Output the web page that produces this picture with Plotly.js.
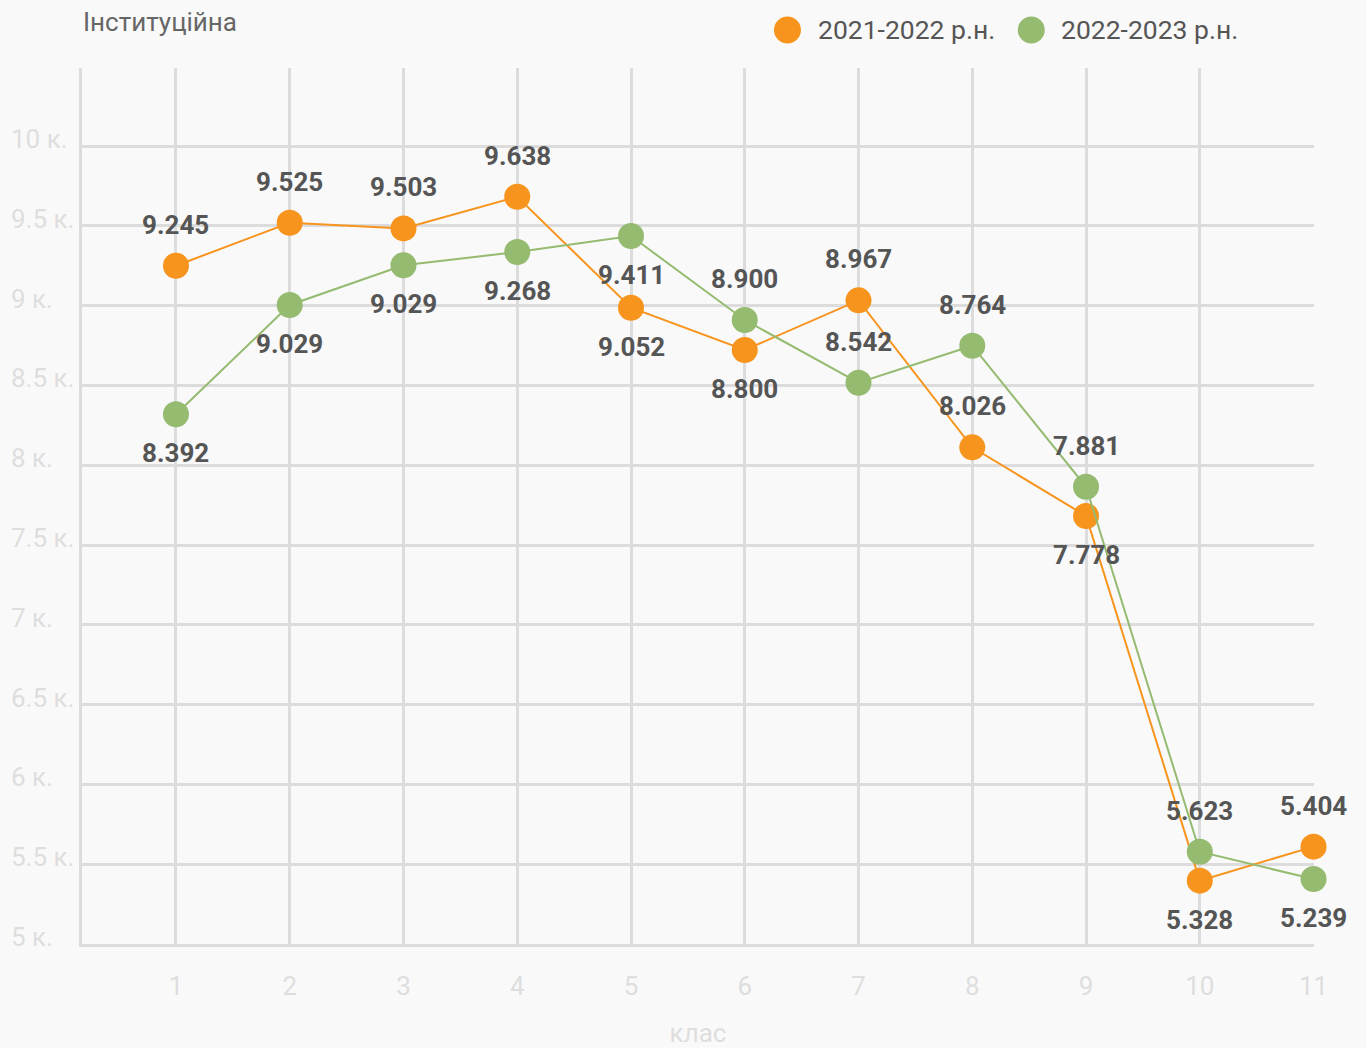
<!DOCTYPE html>
<html>
<head>
<meta charset="utf-8">
<script src="https://cdn.plot.ly/plotly-3.0.1.min.js"></script>
<style>
  html, body { margin: 0; padding: 0; background: #f9f9f9; }
  #chart { width: 1366px; height: 1048px; }
</style>
</head>
<body>
<div id="chart"></div>
<script>
// values
var classes = [1, 2, 3, 4, 5, 6, 7, 8, 9, 10, 11];

var y2021 = [9250, 9519, 9484, 9682, 8987, 8722, 9033, 8112, 7682, 5397, 5610];
var y2022 = [8319, 9004, 9253, 9336, 9436, 8910, 8517, 8749, 7865, 5578, 5407];

// data labels as printed on the chart
var text2021 = ["9.245", "9.525", "9.503", "9.638", "9.052", "8.800", "8.967", "8.026", "7.778", "5.328", "5.404"];
var text2022 = ["8.392", "9.029", "9.029", "9.268", "9.411", "8.900", "8.542", "8.764", "7.881", "5.623", "5.239"];
var pos2021 = ["up", "up", "up", "up", "down", "down", "up", "up", "down", "down", "up"];
var pos2022 = ["down", "down", "down", "down", "down", "up", "up", "up", "up", "up", "down"];

var yTickVals = [5000, 5500, 6000, 6500, 7000, 7500, 8000, 8500, 9000, 9500, 10000];
var yTickText = ["5 к.", "5.5 к.", "6 к.", "6.5 к.", "7 к.", "7.5 к.", "8 к.", "8.5 к.", "9 к.", "9.5 к.", "10 к."];

var seriesNames = ["2021-2022 р.н.", "2022-2023 р.н."];
var colors = ["#f7941d", "#95bb71"];

var gridColor = "#dcdcdc";
var tickColor = "#dedede";
var labelColor = "#555555";

function trace(y, color) {
    return {
        type: "scatter",
        mode: "lines+markers",
        x: classes,
        y: y,
        cliponaxis: false,
        line: { color: color, width: 2 },
        marker: { color: color, size: 26 },
        hoverinfo: "x+y",
        showlegend: false
    };
}

var data = [trace(y2021, colors[0]), trace(y2022, colors[1])];

var annotations = [];

function addLabels(y, texts, pos) {
    for (var i = 0; i < classes.length; i++) {
        annotations.push({
            x: classes[i], y: y[i], xref: "x", yref: "y",
            text: texts[i], showarrow: false,
            xanchor: "center", yanchor: "middle",
            yshift: pos[i] == "up" ? 41 : -39,
            font: { family: "Roboto", size: 26, color: labelColor, weight: "bold" }
        });
    }
}
addLabels(y2021, text2021, pos2021);
addLabels(y2022, text2022, pos2022);

// y tick labels, left aligned like the original
for (var k = 0; k < yTickVals.length; k++) {
    annotations.push({
        x: -0.0592, y: yTickVals[k], xref: "paper", yref: "y",
        text: yTickText[k], showarrow: false,
        xanchor: "left", yanchor: "middle", yshift: 7,
        font: { family: "Roboto", size: 26, color: tickColor }
    });
}

// legend drawn by hand so the dots can be big
var legendX = [0.5726, 0.7705];
var legendTextX = [0.5961, 0.7932];
var legendY = 1.0434;
var shapes = [];
for (var s = 0; s < 2; s++) {
    shapes.push({
        type: "circle", xref: "paper", yref: "paper",
        xsizemode: "pixel", ysizemode: "pixel",
        xanchor: legendX[s], yanchor: legendY,
        x0: -13.5, x1: 13.5, y0: -13.5, y1: 13.5,
        fillcolor: colors[s], line: { width: 0 }
    });
    annotations.push({
        x: legendTextX[s], y: legendY, xref: "paper", yref: "paper",
        text: seriesNames[s], showarrow: false,
        xanchor: "left", yanchor: "middle",
        font: { family: "Roboto", size: 26.5, color: labelColor }
    });
}

var layout = {
    width: 1366,
    height: 1048,
    paper_bgcolor: "#f9f9f9",
    plot_bgcolor: "#f9f9f9",
    font: { family: "Roboto", size: 26, color: labelColor },
    margin: { l: 82, r: 52, t: 68, b: 104 },
    title: {
        text: "Інституційна",
        xref: "container", yref: "container",
        x: 83 / 1366, y: 1 - 22 / 1048,
        xanchor: "left", yanchor: "middle",
        font: { family: "Roboto", size: 26, color: "#666666" }
    },
    xaxis: {
        range: [0.174, 11.004],
        tickmode: "array",
        tickvals: classes,
        ticktext: classes.map(String),
        showgrid: true,
        gridcolor: gridColor,
        gridwidth: 3,
        showline: true,
        linecolor: gridColor,
        linewidth: 3,
        zeroline: false,
        ticks: "",
        ticklabelstandoff: 17,
        tickfont: { family: "Roboto", size: 26, color: tickColor },
        title: {
            text: "клас",
            standoff: 36,
            font: { family: "Roboto", size: 26, color: tickColor }
        }
    },
    yaxis: {
        range: [5000, 10489],
        tickmode: "array",
        tickvals: yTickVals,
        showticklabels: false,
        showgrid: true,
        gridcolor: gridColor,
        gridwidth: 3,
        showline: true,
        linecolor: gridColor,
        linewidth: 3,
        zeroline: false,
        ticks: ""
    },
    shapes: shapes,
    annotations: annotations,
    hovermode: "closest"
};

Plotly.newPlot("chart", data, layout, { displayModeBar: false, responsive: false });
</script>
</body>
</html>
